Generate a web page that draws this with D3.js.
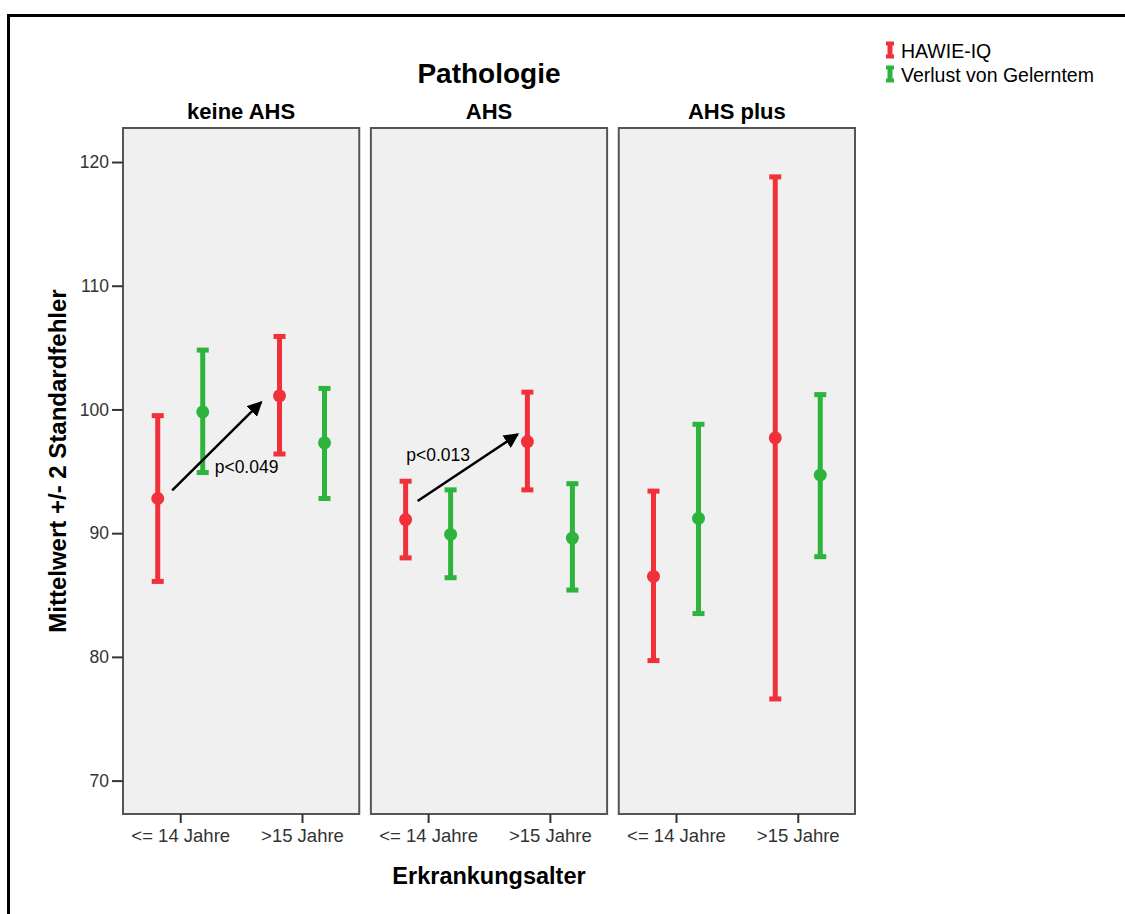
<!DOCTYPE html>
<html>
<head>
<meta charset="utf-8">
<script src="https://cdn.jsdelivr.net/npm/d3@7"></script>
<style>
  html, body { margin: 0; padding: 0; background: #fff; }
  svg { display: block; font-family: "Liberation Sans", Arial, sans-serif; }
</style>
</head>
<body>
<svg id="chart" width="1125" height="914"></svg>
<script>
// Panels (Pathologie) and x categories (Erkrankungsalter)
const panels = ["keine AHS", "AHS", "AHS plus"];
const ageGroups = ["<= 14 Jahre", ">15 Jahre"];
const seriesNames = ["HAWIE-IQ", "Verlust von Gelerntem"];
const seriesColors = ["#f0313a", "#2cb43c"];

// Mean and +/- 2 SE bounds, per panel, per age group
const hawieMean  = [[92.8, 101.1], [91.1, 97.4], [86.5, 97.7]];
const hawieLow   = [[86.1, 96.4],  [88.0, 93.5], [79.7, 76.6]];
const hawieHigh  = [[99.5, 105.9], [94.2, 101.4], [93.4, 118.8]];
const verlustMean = [[99.8, 97.3], [89.9, 89.6], [91.2, 94.7]];
const verlustLow  = [[94.9, 92.8], [86.4, 85.4], [83.5, 88.1]];
const verlustHigh = [[104.8, 101.7], [93.5, 94.0], [98.8, 101.2]];

const yTicks = [70, 80, 90, 100, 110, 120];

// Significance arrows: x in age-group index units, y in data units
const arrowPanels = ["keine AHS", "AHS"];
const arrowFrom = [[-0.066, 93.45], [-0.086, 92.6]];
const arrowTo   = [[0.666, 100.6], [0.737, 98.0]];
const arrowLabels = ["p<0.049", "p<0.013"];
const arrowLabelPos = [[0.283, 94.85], [-0.179, 95.8]];

const seriesData = [
  { mean: hawieMean, low: hawieLow, high: hawieHigh },
  { mean: verlustMean, low: verlustLow, high: verlustHigh }
];

const svg = d3.select("#chart");

// Outer frame
svg.append("path")
  .attr("d", "M8.5,914 L8.5,15.5 L1125,15.5")
  .attr("fill", "none").attr("stroke", "#000").attr("stroke-width", 3);

const plotTop = 128, plotBottom = 814;
const y = d3.scaleLinear().domain([67.3, 122.75]).range([plotBottom, plotTop]);
const px = d3.scaleBand().domain(panels).range([123, 855]).paddingInner(0.047);
const bw = px.bandwidth();
const xAge = d3.scalePoint().domain(ageGroups).range([0, bw]).padding(0.47);
const ageIndexX = d3.scaleLinear().domain([0, 1]).range([xAge(ageGroups[0]), xAge(ageGroups[1])]);
const dodge = d3.scalePoint().domain(seriesNames).range([-22.5, 22.5]);

// Chart title
svg.append("text")
  .attr("x", 489).attr("y", 83)
  .attr("text-anchor", "middle")
  .attr("font-weight", "bold").attr("font-size", 28)
  .text("Pathologie");

// Arrow marker
svg.append("defs").append("marker")
  .attr("id", "arrowhead")
  .attr("viewBox", "0 0 10 10")
  .attr("refX", 9).attr("refY", 5)
  .attr("markerWidth", 6).attr("markerHeight", 6)
  .attr("markerUnits", "strokeWidth")
  .attr("orient", "auto")
  .append("path").attr("d", "M0,0 L10,5 L0,10 z").attr("fill", "#000");

panels.forEach((p, pi) => {
  const g = svg.append("g").attr("transform", `translate(${px(p)},0)`);

  g.append("rect")
    .attr("x", 0).attr("y", plotTop)
    .attr("width", bw).attr("height", plotBottom - plotTop)
    .attr("fill", "#f0f0f0")
    .attr("stroke", "#555").attr("stroke-width", 2);

  g.append("text")
    .attr("x", bw / 2).attr("y", 119)
    .attr("text-anchor", "middle")
    .attr("font-weight", "bold").attr("font-size", 22)
    .text(p);

  // x axis
  const xa = g.append("g").attr("transform", `translate(0,${plotBottom})`)
    .call(d3.axisBottom(xAge).tickSize(9).tickPadding(6));
  xa.select(".domain").remove();
  xa.selectAll("line").attr("stroke", "#333").attr("stroke-width", 2);
  xa.selectAll("text").attr("fill", "#333").attr("font-size", 18.5)
    .attr("font-family", "'Liberation Sans', Arial, sans-serif");

  // error bars
  seriesData.forEach((s, si) => {
    const col = seriesColors[si];
    ageGroups.forEach((a, ai) => {
      const cx = xAge(a) + dodge(seriesNames[si]);
      const m = s.mean[pi][ai], lo = s.low[pi][ai], hi = s.high[pi][ai];
      g.append("line")
        .attr("x1", cx).attr("x2", cx)
        .attr("y1", y(hi)).attr("y2", y(lo))
        .attr("stroke", col).attr("stroke-width", 5);
      [hi, lo].forEach(v => {
        g.append("line")
          .attr("x1", cx - 6).attr("x2", cx + 6)
          .attr("y1", y(v)).attr("y2", y(v))
          .attr("stroke", col).attr("stroke-width", 5);
      });
      g.append("circle")
        .attr("cx", cx).attr("cy", y(m)).attr("r", 6.5)
        .attr("fill", col);
    });
  });

  // significance arrows
  arrowPanels.forEach((ap, k) => {
    if (ap !== p) return;
    g.append("line")
      .attr("x1", ageIndexX(arrowFrom[k][0])).attr("y1", y(arrowFrom[k][1]))
      .attr("x2", ageIndexX(arrowTo[k][0])).attr("y2", y(arrowTo[k][1]))
      .attr("stroke", "#000").attr("stroke-width", 2.5)
      .attr("marker-end", "url(#arrowhead)");
    g.append("text")
      .attr("x", ageIndexX(arrowLabelPos[k][0])).attr("y", y(arrowLabelPos[k][1]))
      .attr("font-size", 17.5).attr("fill", "#000")
      .text(arrowLabels[k]);
  });
});

// y axis on the first panel
const ya = svg.append("g").attr("transform", `translate(${px(panels[0])},0)`)
  .call(d3.axisLeft(y).tickValues(yTicks).tickSize(11).tickPadding(3));
ya.select(".domain").remove();
ya.selectAll("line").attr("stroke", "#333").attr("stroke-width", 2);
ya.selectAll("text").attr("fill", "#333").attr("font-size", 17.5)
  .attr("font-family", "'Liberation Sans', Arial, sans-serif");

// Axis titles
svg.append("text")
  .attr("transform", "translate(66,461) rotate(-90)")
  .attr("text-anchor", "middle")
  .attr("font-weight", "bold").attr("font-size", 24)
  .text("Mittelwert +/- 2 Standardfehler");

svg.append("text")
  .attr("x", 489).attr("y", 884)
  .attr("text-anchor", "middle")
  .attr("font-weight", "bold").attr("font-size", 23.5)
  .text("Erkrankungsalter");

// Legend
const legend = svg.append("g");
seriesNames.forEach((n, i) => {
  const ly = 50 + i * 24;
  const lg = legend.append("g");
  lg.append("line").attr("x1", 890).attr("x2", 890).attr("y1", ly - 7).attr("y2", ly + 7)
    .attr("stroke", seriesColors[i]).attr("stroke-width", 5);
  [ly - 6.5, ly + 6.5].forEach(v => lg.append("line")
    .attr("x1", 886).attr("x2", 894).attr("y1", v).attr("y2", v)
    .attr("stroke", seriesColors[i]).attr("stroke-width", 4));
  lg.append("text").attr("x", 901).attr("y", ly + 7.5)
    .attr("font-size", 19.5).attr("fill", "#000").text(n);
});
</script>
</body>
</html>
